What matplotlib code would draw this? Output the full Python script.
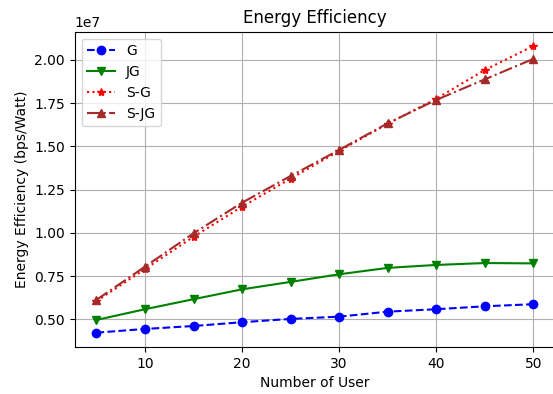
import matplotlib
matplotlib.use("Agg")
import matplotlib.pyplot as plt

users = [5, 10, 15, 20, 25, 30, 35, 40, 45, 50]
ee_g = [0.4225e7, 0.444e7, 0.461e7, 0.483e7, 0.502e7, 0.515e7, 0.544e7, 0.558e7, 0.575e7, 0.587e7]
ee_jg = [0.496e7, 0.558e7, 0.616e7, 0.673e7, 0.716e7, 0.760e7, 0.797e7, 0.814e7, 0.825e7, 0.823e7]
ee_sg = [0.605e7, 0.790e7, 0.977e7, 1.151e7, 1.313e7, 1.473e7, 1.630e7, 1.775e7, 1.941e7, 2.080e7]
ee_sjg = [0.612e7, 0.804e7, 0.997e7, 1.174e7, 1.328e7, 1.479e7, 1.633e7, 1.768e7, 1.887e7, 2.005e7]

fig = plt.figure(figsize=(5.53, 3.94), dpi=100)
ax = fig.add_axes([74.6/553, 47/394, (555.2-74.6)/553, (347-31.6)/394])

ax.plot(users, ee_g, 'b--o', label='G')
ax.plot(users, ee_jg, 'g-v', label='JG')
ax.plot(users, ee_sg, 'r:*', label='S-G')
ax.plot(users, ee_sjg, color='brown', linestyle='-.', marker='^', label='S-JG')

ax.set_title('Energy Efficiency')
ax.set_xlabel('Number of User')
ax.set_ylabel('Energy Efficiency (bps/Watt)')
ax.grid(True)
ax.legend(loc='upper left')

fig.savefig('out.png', dpi=100)
